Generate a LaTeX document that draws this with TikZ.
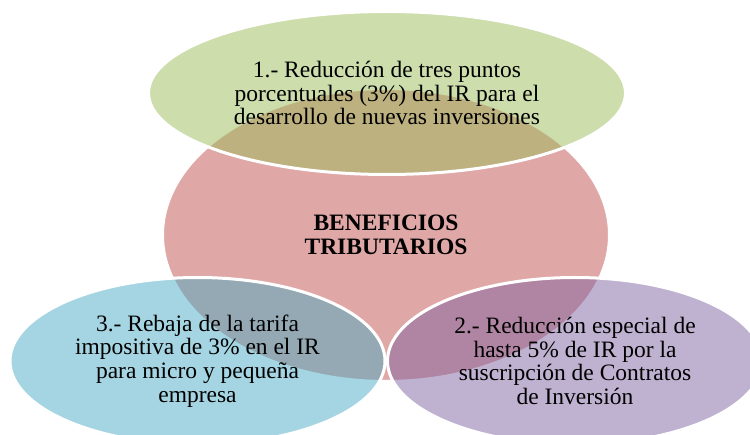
\documentclass[tikz,border=0pt]{standalone}
\usepackage{fontspec}
\setmainfont{Liberation Serif}
\usetikzlibrary{shapes.geometric}
\definecolor{cred}{RGB}{192,80,77}
\definecolor{cgreen}{RGB}{155,187,89}
\definecolor{cblue}{RGB}{75,172,198}
\definecolor{cpurple}{RGB}{128,100,162}
\tikzset{
  bubble/.style={ellipse, draw=white, line width=3pt, fill opacity=0.5,
    text opacity=1, inner sep=0pt, align=center, text=black,
    font=\fontsize{23.5}{23.6}\selectfont},
}
\begin{document}
\begin{tikzpicture}[x=1pt,y=-1pt]
\useasboundingbox (0,0) rectangle (750,435);
\clip (0,0) rectangle (750,435);
\node[bubble, fill=cred, minimum width=447pt, minimum height=293pt] (center) at (386,235)
  {\bfseries BENEFICIOS\\\bfseries TRIBUTARIOS};
\node[bubble, fill=cgreen, minimum width=477pt, minimum height=163pt] (top) at (387,93)
  {1.- Reducción de tres puntos\\porcentuales (3\%) del IR para el\\desarrollo de nuevas inversiones};
\node[bubble, fill=cpurple, minimum width=375pt, minimum height=167pt] (right) at (575,361)
  {2.- Reducción especial de\\hasta 5\% de IR por la\\suscripción de Contratos\\de Inversión};
\node[bubble, fill=cblue, minimum width=375pt, minimum height=167pt] (left) at (197.5,361)
  {3.- Rebaja de la tarifa\\impositiva de 3\% en el IR\\para micro y pequeña\\empresa};
\end{tikzpicture}
\end{document}
